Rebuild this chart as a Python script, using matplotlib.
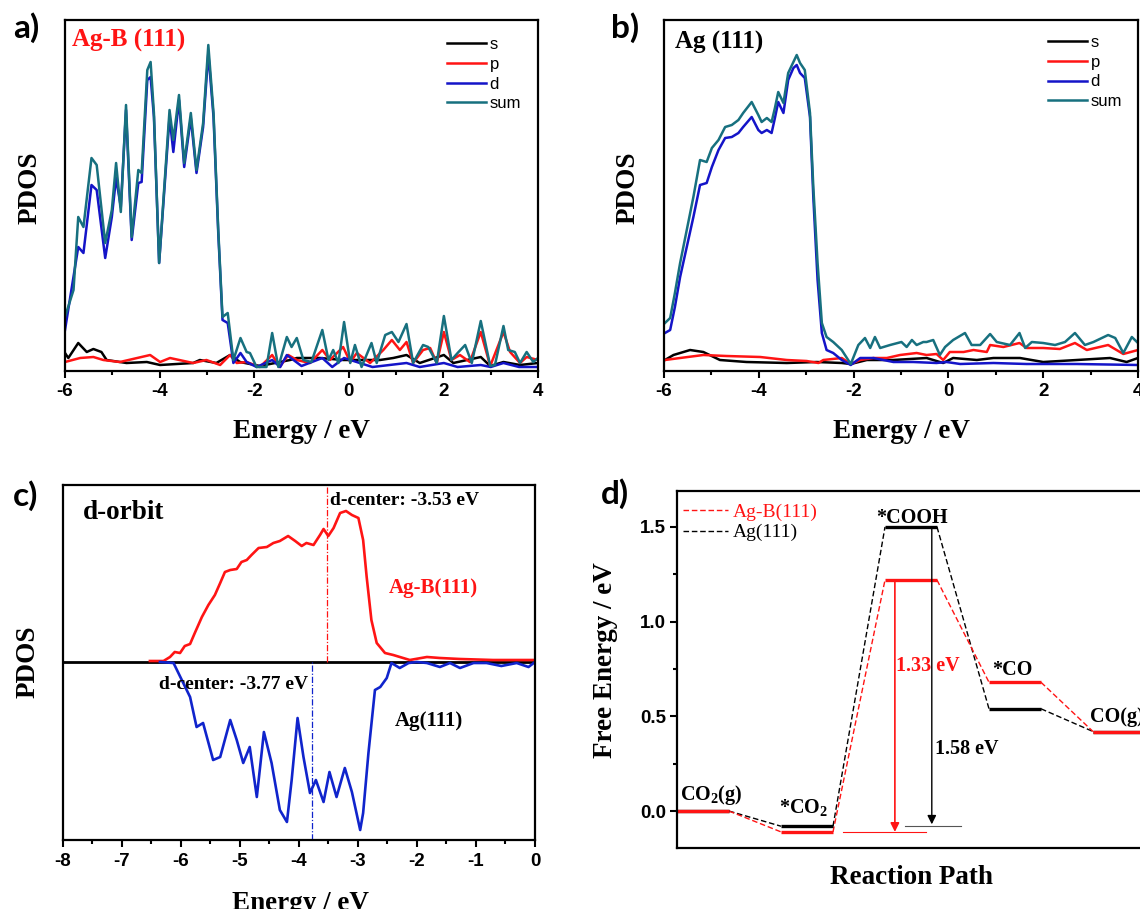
import matplotlib
matplotlib.use("Agg")
import matplotlib.pyplot as plt
from matplotlib.ticker import MultipleLocator, FormatStrFormatter

plt.rcParams['mathtext.fontset'] = 'custom'
plt.rcParams['mathtext.rm'] = 'Liberation Serif'
plt.rcParams['mathtext.bf'] = 'Liberation Serif:bold'
plt.rcParams['mathtext.it'] = 'Liberation Serif:italic'

SERIF = 'Liberation Serif'
SANS = 'Liberation Sans'

# ---------------- Panel a: Ag-B(111) PDOS ----------------
a_sum_E = [-6.00,-5.82,-5.72,-5.61,-5.44,-5.33,-5.15,-5.01,-4.92,-4.82,-4.71,-4.59,-4.45,-4.38,-4.26,-4.19,-4.12,-4.01,-3.79,-3.71,
           -3.59,-3.48,-3.34,-3.22,-3.08,-2.97,-2.86,-2.76,-2.67,-2.56,-2.44,-2.29,-2.16,-2.09,-1.95,-1.74,-1.62,-1.49,-1.31,-1.21,
           -1.10,-0.96,-0.79,-0.56,-0.43,-0.33,-0.22,-0.10,0.03,0.13,0.27,0.48,0.59,0.77,0.91,1.05,1.22,1.36,1.57,1.68,
           1.86,2.01,2.17,2.32,2.46,2.60,2.79,2.99,3.09,3.27,3.37,3.51,3.62,3.76,3.90,4.00]
a_sum = [54,81,154,144,213,206,128,161,208,159,266,134,201,198,301,309,258,108,261,231,
         276,208,258,201,248,326,258,141,54,58,11,33,19,18,4,4,38,4,34,24,
         33,11,9,41,11,21,8,49,8,26,4,28,8,36,39,29,47,8,26,24,
         8,55,11,19,26,8,50,5,6,45,21,19,8,19,9,13]
a_d_E = [-6.00,-5.72,-5.61,-5.44,-5.33,-5.15,-5.01,-4.92,-4.82,-4.71,-4.59,-4.45,-4.38,-4.26,-4.19,-4.12,-4.01,-3.79,-3.71,-3.59,
         -3.48,-3.34,-3.22,-3.08,-2.97,-2.86,-2.76,-2.67,-2.56,-2.44,-2.29,-2.16,-1.95,-1.62,-1.45,-1.31,-1.0,-0.56,-0.35,-0.10,
         0.5,1.22,1.5,2.01,2.3,2.79,3.0,3.27,3.6,4.00]
a_d = [41,124,118,186,181,113,154,193,164,261,131,188,189,291,294,254,108,254,219,271,
       204,253,198,244,318,254,138,51,48,8,18,9,4,11,4,16,5,13,4,13,
       4,8,4,8,4,6,4,8,4,4]
a_p_E = [-6.00,-5.68,-5.40,-5.19,-4.84,-4.20,-3.99,-3.78,-3.29,-3.01,-2.72,-2.51,-2.37,-2.16,-1.88,-1.62,-1.46,-1.28,-1.10,-0.82,
         -0.56,-0.40,-0.12,0.03,0.17,0.45,0.73,0.91,1.08,1.22,1.36,1.57,1.72,1.86,2.01,2.17,2.35,2.56,2.79,2.99,
         3.27,3.41,3.62,3.76,4.00]
a_p = [9,13,14,11,9,16,9,13,8,11,6,16,8,9,4,16,4,16,11,8,
       21,11,24,9,18,8,21,31,21,29,8,21,23,8,39,11,16,9,39,5,
       39,19,8,14,11]
a_s_E = [-6.00,-5.93,-5.72,-5.54,-5.40,-5.23,-5.12,-4.70,-4.27,-3.99,-3.29,-3.15,-2.80,-2.51,-2.30,-1.88,-1.24,-1.10,-0.61,-0.12,
         0.66,0.94,1.22,1.50,2.01,2.21,2.79,2.99,3.27,3.62,4.00]
a_s = [18,13,28,19,22,19,11,8,9,6,8,11,8,16,9,5,11,13,13,11,
       11,13,16,8,16,8,14,5,9,6,8]

# ---------------- Panel b: Ag(111) PDOS ----------------
b_sum_E = [-5.98,-5.87,-5.77,-5.66,-5.52,-5.38,-5.24,-5.10,-4.99,-4.85,-4.71,-4.57,-4.43,-4.33,-4.15,-4.01,-3.94,-3.83,-3.73,-3.66,
           -3.59,-3.48,-3.38,-3.27,-3.20,-3.13,-3.03,-2.92,-2.85,-2.76,-2.67,-2.57,-2.43,-2.25,-2.06,-1.90,-1.76,-1.65,-1.55,-1.44,
           -1.23,-0.99,-0.88,-0.77,-0.67,-0.53,-0.46,-0.32,-0.18,-0.07,0.10,0.35,0.49,0.67,0.88,1.02,1.30,1.50,1.62,1.76,
           2.00,2.25,2.46,2.67,2.88,3.06,3.37,3.52,3.69,3.87,4.00]
b_sum = [48,53,78,108,141,174,211,209,223,231,244,246,251,258,269,256,249,253,249,263,
         279,268,298,309,316,308,301,258,184,108,48,34,29,21,7,26,33,23,34,23,
         26,29,24,31,26,29,29,31,16,24,31,38,26,26,37,29,26,38,23,29,
         28,26,29,38,26,29,36,33,18,34,28]
b_d_E = [-5.98,-5.87,-5.77,-5.66,-5.52,-5.38,-5.24,-5.10,-4.99,-4.85,-4.71,-4.57,-4.43,-4.33,-4.15,-4.01,-3.94,-3.83,-3.73,-3.66,
         -3.59,-3.48,-3.38,-3.27,-3.20,-3.13,-3.03,-2.92,-2.85,-2.76,-2.67,-2.57,-2.43,-2.25,-2.06,-1.86,-1.58,-1.16,-0.74,-0.25,
         -0.04,0.25,0.95,1.65,2.71,4.00]
b_d = [38,41,64,94,124,154,186,188,204,221,233,234,238,244,254,241,238,241,238,253,
       269,258,291,303,306,298,293,254,174,91,38,21,18,11,6,13,13,9,9,8,
       9,7,8,7,7,6]
b_p_E = [-5.98,-5.66,-5.17,-4.68,-3.97,-3.41,-2.99,-2.74,-2.64,-2.25,-2.06,-1.86,-1.58,-1.30,-1.02,-0.67,-0.46,-0.25,-0.11,0.03,
         0.32,0.53,0.81,0.88,1.16,1.50,1.65,2.00,2.35,2.67,2.92,3.37,3.69,4.00]
b_p = [11,13,16,15,14,11,10,8,11,13,7,11,13,13,16,18,16,17,11,19,
       19,21,19,26,24,28,23,23,22,28,21,26,17,21]
b_s_E = [-5.98,-5.80,-5.45,-5.17,-4.82,-4.26,-3.41,-2.78,-2.25,-2.06,-1.72,-1.16,-0.46,-0.11,0.10,0.60,0.95,1.51,2.00,2.71,
         3.41,3.76,4.00]
b_s = [11,16,21,19,11,9,8,9,8,7,11,11,13,8,13,11,13,13,9,11,
       13,9,13]

# ---------------- Panel c: d-orbit ----------------
c_agb_E = [-6.52,-6.29,-6.18,-6.10,-6.01,-5.93,-5.84,-5.76,-5.64,-5.53,-5.42,-5.33,-5.25,-5.16,-5.05,-4.97,-4.88,-4.80,-4.68,-4.54,
           -4.43,-4.32,-4.18,-4.06,-3.95,-3.87,-3.75,-3.64,-3.58,-3.50,-3.41,-3.30,-3.20,-3.10,-2.99,-2.91,-2.85,-2.77,-2.68,-2.54,
           -2.40,-2.12,-1.83,-1.61,-1.27,-0.71,0.00]
c_agb = [1,1,5,10,9,16,18,29,45,57,67,79,90,92,93,100,102,107,114,115,
         119,121,126,121,116,119,117,127,133,126,134,149,151,147,144,122,85,42,19,9,
         7,2,5,4,3,2,2]
c_ag_E = [-6.35,-6.12,-5.98,-5.84,-5.73,-5.62,-5.45,-5.33,-5.16,-5.05,-4.94,-4.83,-4.71,-4.59,-4.46,-4.32,-4.20,-4.12,-4.02,-3.92,
          -3.81,-3.71,-3.58,-3.48,-3.36,-3.22,-3.10,-2.96,-2.91,-2.82,-2.71,-2.62,-2.51,-2.43,-2.29,-2.14,-2.00,-1.83,-1.61,-1.44,
          -1.27,-1.04,-0.82,-0.57,-0.31,-0.11,0.00]
c_ag = [0,-1,-18,-35,-65,-61,-98,-95,-58,-78,-101,-85,-135,-70,-101,-148,-160,-118,-56,-95,
        -131,-118,-140,-110,-135,-106,-130,-168,-151,-91,-28,-25,-16,-1,-6,-1,0,-1,-5,-1,
        -6,-1,-1,-4,-1,-5,0]
dcenter_agb = -3.53
dcenter_ag = -3.77

# ---------------- Panel d: free energy ----------------
steps = ['CO$_\\mathbf{2}$(g)', '*CO$_\\mathbf{2}$', '*COOH', '*CO', 'CO(g)']
G_agb = [0.00, -0.11, 1.22, 0.68, 0.42]
G_ag = [0.00, -0.08, 1.50, 0.54, 0.42]
barrier_agb = '1.33 eV'
barrier_ag = '1.58 eV'

W, H = 1140, 909
fig = plt.figure(figsize=(W / 100, H / 100), dpi=100)


def rect(l, t, r, b):
    return [l / W, 1 - b / H, (r - l) / W, (b - t) / H]


def fpos(x, y):
    return x / W, 1 - y / H


TEAL = '#17707f'
BLUE = '#1414c8'
RED = '#ff1414'


def style_axes(ax, major, minor):
    for s in ax.spines.values():
        s.set_linewidth(1.6)
    ax.tick_params(axis='both', which='both', direction='out', top=False, right=False)
    ax.tick_params(axis='x', which='major', length=5, width=1.5, pad=4, labelsize=13.5)
    ax.tick_params(axis='x', which='minor', length=3, width=1.5)
    ax.xaxis.set_major_locator(MultipleLocator(major))
    ax.xaxis.set_minor_locator(MultipleLocator(minor))
    ax.xaxis.set_major_formatter(FormatStrFormatter('%d'))
    for lab in ax.get_xticklabels():
        lab.set_fontfamily(SANS)
        lab.set_fontweight('bold')


def pdos_panel(rect_, data, title, title_color, anchors):
    ax = fig.add_axes(rect_)
    for E, v, c, lab in data:
        ax.plot(E, v, color=c, lw=1.8, label=lab, solid_joinstyle='round')
    ax.set_xlim(-6, 4)
    ax.set_ylim(0, 351)
    ax.set_yticks([])
    style_axes(ax, 2, 1)
    ax.text(anchors[2], anchors[3], title, transform=ax.transAxes, color=title_color,
            fontsize=18, fontweight='bold', family=SERIF, va='baseline', ha='left')
    ax.legend(frameon=False, loc='upper left', bbox_to_anchor=(anchors[0], anchors[1]),
              borderaxespad=0, borderpad=0, handlelength=2.35, handletextpad=0.2,
              labelspacing=0.28, prop={'family': SANS, 'size': 12})
    return ax


axa = pdos_panel(rect(65, 20, 538, 371),
                 [(a_s_E, a_s, 'black', 's'), (a_p_E, a_p, RED, 'p'), (a_d_E, a_d, BLUE, 'd'), (a_sum_E, a_sum, TEAL, 'sum')],
                 'Ag-B (111)', RED, (0.808, 0.951, 0.015, 0.923))
axb = pdos_panel(rect(664, 20, 1138, 371),
                 [(b_s_E, b_s, 'black', 's'), (b_p_E, b_p, RED, 'p'), (b_d_E, b_d, BLUE, 'd'), (b_sum_E, b_sum, TEAL, 'sum')],
                 'Ag (111)', 'black', (0.810, 0.957, 0.023, 0.920))

# Panel c
axc = fig.add_axes(rect(62.5, 485, 535, 840))
axc.axhline(0, color='black', lw=2)
axc.plot(c_agb_E, c_agb, color=RED, lw=1.9, solid_joinstyle='round')
axc.plot(c_ag_E, c_ag, color='#1024cc', lw=1.9, solid_joinstyle='round')
axc.vlines(dcenter_agb, 0, 177, colors=RED, linestyles=(0, (5, 1.5, 1, 1.5)), lw=0.9)
axc.vlines(dcenter_ag, -178, 0, colors='#1024cc', linestyles=(0, (5, 1.5, 1, 1.5)), lw=0.9)
axc.set_xlim(-8, 0)
axc.set_ylim(-178, 177)
axc.set_yticks([])
style_axes(axc, 1, 0.5)
axc.text(-7.65, 143, 'd-orbit', fontsize=19.5, fontweight='bold', family=SERIF, va='baseline')
axc.text(dcenter_agb + 0.06, 157, 'd-center: %.2f eV' % dcenter_agb, fontsize=14, fontweight='bold',
         family=SERIF, va='baseline')
axc.text(-6.37, -27, 'd-center: %.2f eV' % dcenter_ag, fontsize=14, fontweight='bold',
         family=SERIF, va='baseline')
axc.text(-2.47, 69, 'Ag-B(111)', fontsize=15, fontweight='bold', family=SERIF, color=RED, va='baseline')
axc.text(-2.37, -64, 'Ag(111)', fontsize=15, fontweight='bold', family=SERIF, color='black', va='baseline')

# Panel d
axd = fig.add_axes(rect(677, 491, 677 + 9.3 * 52, 848))
axd.set_xlim(0, 9.3)
axd.set_ylim(-0.195, 1.69)
dash = (0, (4, 2))
for i in range(len(steps) - 1):
    axd.plot([2 * i + 1, 2 * i + 2], [G_ag[i], G_ag[i + 1]], color='black', lw=1.0, ls=dash)
    axd.plot([2 * i + 1, 2 * i + 2], [G_agb[i], G_agb[i + 1]], color=RED, lw=1.0, ls=dash)
for i in range(len(steps)):
    axd.plot([2 * i, 2 * i + 1], [G_ag[i], G_ag[i]], color='black', lw=2.4, solid_capstyle='butt')
    axd.plot([2 * i, 2 * i + 1], [G_agb[i], G_agb[i]], color=RED, lw=2.4, solid_capstyle='butt')
# legend proxies
axd.plot([], [], color=RED, lw=1.0, ls=dash, label='Ag-B(111)')
axd.plot([], [], color='black', lw=1.0, ls=dash, label='Ag(111)')
leg = axd.legend(frameon=False, loc='upper left', bbox_to_anchor=(0.012, 0.966), borderaxespad=0,
                 borderpad=0, handlelength=2.3, handletextpad=0.25, labelspacing=0.15,
                 prop={'family': SERIF, 'size': 14})
for t, c in zip(leg.get_texts(), [RED, 'black']):
    t.set_color(c)

# barrier arrows
axd.plot([3.2, 4.78], [G_agb[1], G_agb[1]], color=RED, lw=0.8)
axd.plot([4.39, 5.46], [G_ag[1], G_ag[1]], color='#555555', lw=0.8)
axd.annotate('', xy=(4.19, G_agb[1]), xytext=(4.19, G_agb[2]),
             arrowprops=dict(arrowstyle='-|>', color=RED, lw=1.2, mutation_scale=13, shrinkA=0, shrinkB=0))
axd.annotate('', xy=(4.9, G_ag[1] + 0.01), xytext=(4.9, G_ag[2]),
             arrowprops=dict(arrowstyle='-|>', color='black', lw=1.0, mutation_scale=13, shrinkA=0, shrinkB=0))
axd.text(4.21, 0.74, barrier_agb, color=RED, fontsize=14.5, fontweight='bold', family=SERIF, va='baseline')
axd.text(4.96, 0.30, barrier_ag, color='black', fontsize=14.5, fontweight='bold', family=SERIF, va='baseline')

label_pos = [(0.06, 0.058), (1.96, -0.01), (3.83, 1.52), (6.06, 0.718), (7.94, 0.47)]
for s, (x, y) in zip(steps, label_pos):
    axd.text(x, y, s, fontsize=14.5, fontweight='bold', family=SERIF, va='baseline', ha='left')

for s in axd.spines.values():
    s.set_linewidth(1.6)
axd.tick_params(axis='x', which='both', bottom=False, top=False, labelbottom=False)
axd.tick_params(axis='y', which='major', direction='out', length=5, width=1.5, pad=3, labelsize=13.5, right=False)
axd.tick_params(axis='y', which='minor', direction='out', length=3, width=1.5, right=False)
axd.yaxis.set_major_locator(MultipleLocator(0.5))
axd.yaxis.set_minor_locator(MultipleLocator(0.25))
axd.yaxis.set_major_formatter(FormatStrFormatter('%.1f'))
for lab in axd.get_yticklabels():
    lab.set_fontfamily(SANS)
    lab.set_fontweight('bold')

# axis labels
lab_kw = dict(fontsize=19.5, fontweight='bold', family=SERIF, ha='center', va='center')
fig.text(*fpos(30, 188), 'PDOS', rotation=90, **lab_kw)
fig.text(*fpos(628, 188), 'PDOS', rotation=90, **lab_kw)
fig.text(*fpos(28, 662), 'PDOS', rotation=90, **lab_kw)
fig.text(*fpos(606, 660), 'Free Energy / eV', rotation=90, **lab_kw)
fig.text(*fpos(301, 432), 'Energy / eV', **lab_kw)
fig.text(*fpos(901, 432), 'Energy / eV', **lab_kw)
fig.text(*fpos(300, 903), 'Energy / eV', **lab_kw)
fig.text(*fpos(911, 877), 'Reaction Path', **lab_kw)

# panel letters
pl_kw = dict(fontsize=24, fontweight='bold', family=['Lato', 'DejaVu Sans'], ha='left', va='baseline')
fig.text(*fpos(13, 38), 'a)', **pl_kw)
fig.text(*fpos(611, 38), 'b)', **pl_kw)
fig.text(*fpos(13, 506), 'c)', **pl_kw)
fig.text(*fpos(601, 504), 'd)', **pl_kw)

fig.savefig('out.png', dpi=100)
